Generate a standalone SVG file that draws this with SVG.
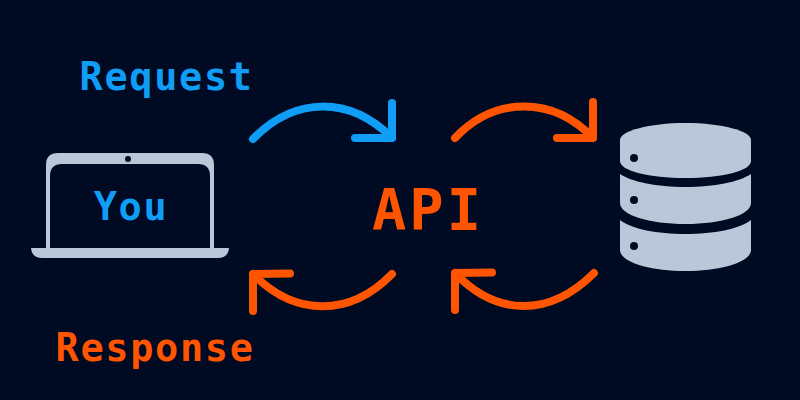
<svg xmlns="http://www.w3.org/2000/svg" width="800" height="400" viewBox="0 0 800 400">
<style>
.t{font-family:"DejaVu Sans Mono","Liberation Mono",monospace;font-weight:bold}
.s{font-size:38.500px;letter-spacing:1.700px}
.b{fill:#0f9df5}
.o{fill:#ff5500}
.a{fill:none;stroke-width:8;stroke-linecap:round;stroke-linejoin:round}
.sb{stroke:#0f9df5}
.so{stroke:#ff5500}
.g{fill:#bac7d8}
.d{fill:#000a23}
</style>
<rect width="800" height="400" fill="#000a23"/>
<g id="connectors">
<path class="a sb" d="M253 139C295 96 350 96 392 138M392 103V138H355"/>
<path class="a so" d="M455 138C495 96 553 96 593 138M593 102V138H557"/>
<path class="a so" d="M392 274C350 317 295 317 253 274M253 311V274L290 273.500"/>
<path class="a so" d="M594 273C550 317 497 317 455 273M455 310V273L492 272.500"/>
</g>
<g id="laptop">
<path class="g" d="M46 248V165Q46 153 58 153H202Q214 153 214 165V248ZM50 248H210V176Q210 164 198 164H62Q50 164 50 176Z" fill-rule="evenodd"/>
<path class="g" d="M31 248H229Q228 258 218 258H42Q32 258 31 248Z"/>
<circle class="d" cx="128" cy="159" r="3"/>
<text class="t s b" x="131" y="220" text-anchor="middle">You</text>
</g>
<g id="api">
<text class="t o" x="428" y="229.500" font-size="57" letter-spacing="3" text-anchor="middle">API</text>
</g>
<g id="database">
<path class="g" d="M620 140C620 131 649 123 685.500 123S751 131 751 140V161C751 171 722 178 685.500 178S620 171 620 161Z"/>
<path class="g" d="M620 174C632 182 657 187 685.500 187S739 182 751 174V203C751 215 722 224 685.500 224S620 215 620 203Z"/>
<path class="g" d="M620 220C632 229 657 234 685.500 234S739 229 751 220V250C751 262 722 271 685.500 271S620 262 620 250Z"/>
<circle class="d" cx="634" cy="158" r="4"/>
<circle class="d" cx="634" cy="200" r="4"/>
<circle class="d" cx="634" cy="246" r="4"/>
</g>
<g id="request-label"><text class="t s b" x="79.500" y="90">Request</text></g>
<g id="response-label"><text class="t s o" x="55.500" y="361">Response</text></g>
</svg>
